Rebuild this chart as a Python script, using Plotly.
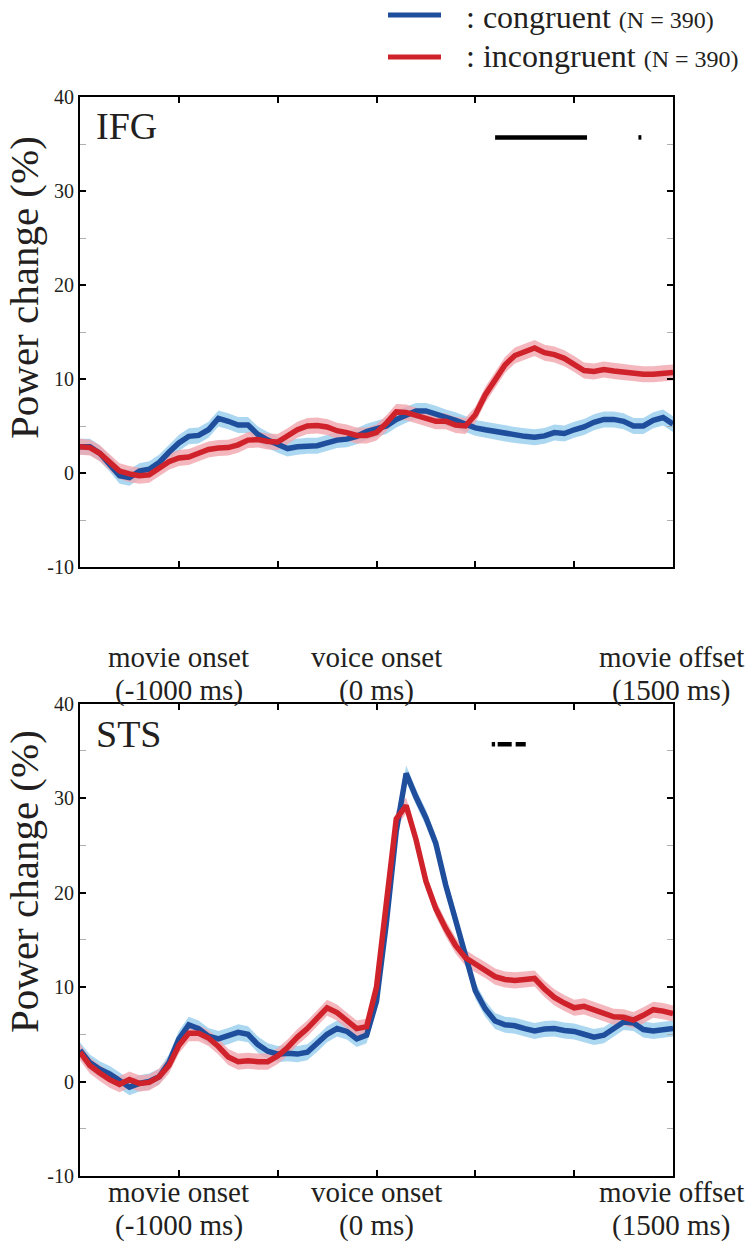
import plotly.graph_objects as go

# ---------------- data ----------------
time_ms = list(range(-1500, 1501, 50))

ifg_congruent = [
    2.8, 2.8, 2.1, 1.0, -0.3, -0.5, 0.2, 0.4, 1.1, 2.2,
    3.2, 3.9, 4.0, 4.6, 5.8, 5.5, 5.1, 5.1, 4.1, 3.5,
    3.0, 2.6, 2.8, 2.9, 2.9, 3.2, 3.5, 3.6, 3.9, 4.4,
    4.7, 5.0, 5.7, 6.2, 6.6, 6.6, 6.3, 5.9, 5.6, 5.2,
    4.8, 4.6, 4.4, 4.2, 4.05, 3.9, 3.8, 3.95, 4.3, 4.2,
    4.6, 4.9, 5.4, 5.7, 5.7, 5.5, 5.0, 5.0, 5.6, 5.9,
    5.2,
]
ifg_incongruent = [
    2.8, 2.7, 2.1, 1.2, 0.2, -0.1, -0.3, -0.2, 0.5, 1.2,
    1.6, 1.7, 2.1, 2.5, 2.65, 2.7, 3.0, 3.5, 3.55, 3.35,
    3.3, 3.9, 4.6, 5.0, 5.05, 4.9, 4.5, 4.3, 4.0, 4.0,
    4.3, 5.3, 6.5, 6.45, 6.1, 5.8, 5.5, 5.5, 5.1, 5.0,
    6.2, 8.3, 9.9, 11.5, 12.5, 12.9, 13.3, 12.8, 12.6, 12.2,
    11.6, 10.9, 10.8, 11.0, 10.85, 10.7, 10.6, 10.5, 10.5, 10.6,
    10.7,
]
sts_congruent = [
    3.3, 2.0, 1.3, 0.8, 0.1, -0.6, -0.2, 0.0, 0.5, 2.0,
    4.5, 6.0, 5.6, 4.8, 4.5, 4.8, 5.2, 5.0, 3.9, 3.2,
    2.9, 3.0, 2.9, 3.1, 4.0, 5.0, 5.6, 5.3, 4.5, 4.9,
    8.5, 16.8, 26.5, 32.6, 30.1, 27.9, 25.2, 20.8, 17.1, 13.4,
    9.6, 7.7, 6.4, 6.0, 5.9, 5.6, 5.35, 5.55, 5.6, 5.4,
    5.3, 5.0, 4.7, 4.9, 5.6, 6.3, 6.2, 5.5, 5.35, 5.5,
    5.6,
]
sts_incongruent = [
    3.1, 1.7, 0.9, 0.2, -0.3, 0.2, -0.2, -0.1, 0.5, 1.7,
    3.8, 5.1, 5.1, 4.6, 3.7, 2.6, 2.1, 2.2, 2.1, 2.1,
    2.7, 3.6, 4.7, 5.6, 6.7, 7.8, 7.3, 6.4, 5.6, 5.8,
    10.0, 18.9, 27.8, 29.2, 25.6, 21.2, 18.3, 16.2, 14.4, 13.1,
    12.4, 11.8, 11.1, 10.8, 10.7, 10.8, 10.9, 9.8, 8.9, 8.3,
    7.8, 7.95, 7.6, 7.2, 6.85, 6.8, 6.5, 7.0, 7.6, 7.45,
    7.2,
]
sem_congruent = 0.85
sem_incongruent = 0.85

# significant intervals (ms)
ifg_sig_start = [600, 1325]
ifg_sig_end = [1065, 1340]
sts_sig_start = [583, 613, 704]
sts_sig_end = [600, 684, 755]
sig_level = 35.7

y_tick_vals = [-10, 0, 10, 20, 30, 40]
y_tick_text = ["-10", "0", "10", "20", "30", "40"]
x_label_vals = [-1000, 0, 1500]
x_label_event = ["movie onset", "voice onset", "movie offset"]
x_label_time = ["(-1000 ms)", "(0 ms)", "(1500 ms)"]
panel_names = ["IFG", "STS"]

# ---------------- style ----------------
W, H = 746, 1248
FONT = "Liberation Serif, serif"
TXT = "#231f20"
BLUE = "#1f4e9c"
RED = "#d0222b"
BLUE_BAND = "rgba(150,205,238,0.8)"
RED_BAND = "rgba(240,165,172,0.8)"


def px(p):
    return p / W


def py(p):
    return 1 - p / H


fig = go.Figure()


def add_panel(xa, ya, cong, incong, sig_s, sig_e):
    for vals, sem, band in [(cong, sem_congruent, BLUE_BAND), (incong, sem_incongruent, RED_BAND)]:
        upper = [v + sem for v in vals]
        lower = [v - sem for v in vals]
        fig.add_trace(go.Scatter(
            x=time_ms + time_ms[::-1], y=upper + lower[::-1],
            fill="toself", fillcolor=band, line=dict(width=0),
            mode="lines", hoverinfo="skip", showlegend=False,
            xaxis=xa, yaxis=ya))
    for vals, col in [(cong, BLUE), (incong, RED)]:
        fig.add_trace(go.Scatter(
            x=time_ms, y=vals, mode="lines",
            line=dict(color=col, width=5.5), showlegend=False,
            xaxis=xa, yaxis=ya))
    for s, e in zip(sig_s, sig_e):
        fig.add_trace(go.Scatter(
            x=[s, e], y=[sig_level, sig_level], mode="lines",
            line=dict(color="black", width=4.5), showlegend=False,
            xaxis=xa, yaxis=ya))


add_panel("x", "y", ifg_congruent, ifg_incongruent, ifg_sig_start, ifg_sig_end)
add_panel("x2", "y2", sts_congruent, sts_incongruent, sts_sig_start, sts_sig_end)

xdom = [px(80), px(673)]
ydoms = [[py(567), py(97)], [py(1176), py(703.5)]]

xaxis_common = dict(
    range=[-1500, 1500], tickvals=[-1000, -500, 0, 500, 1000],
    showticklabels=False, ticks="inside", ticklen=6, tickwidth=2,
    tickcolor="black", showline=True, linewidth=2, linecolor="black",
    mirror="ticks", showgrid=False, zeroline=False, domain=xdom,
)
yaxis_common = dict(
    range=[-10, 40], tickvals=y_tick_vals, ticktext=y_tick_text,
    ticks="inside", ticklen=6,
    tickwidth=2, tickcolor="black", showline=True, linewidth=2,
    linecolor="black", mirror="ticks", showgrid=False, zeroline=False,
    tickfont=dict(family=FONT, size=20, color=TXT),
    minor=dict(dtick=5, tick0=0, ticks="inside", ticklen=6, tickwidth=1, tickcolor="#b0b0b0"),
)

fig.update_layout(
    width=W, height=H, margin=dict(l=0, r=0, t=0, b=0, autoexpand=False),
    paper_bgcolor="white", plot_bgcolor="white", showlegend=False,
    xaxis=dict(**xaxis_common, anchor="y"),
    xaxis2=dict(**xaxis_common, anchor="y2"),
    yaxis=dict(**yaxis_common, domain=ydoms[0], anchor="x"),
    yaxis2=dict(**yaxis_common, domain=ydoms[1], anchor="x2"),
)

annotations = []
# x labels (two lines each)
for xref, y1, y2 in [("x", 657, 690), ("x2", 1192, 1225)]:
    for v, t1, t2 in zip(x_label_vals, x_label_event, x_label_time):
        for t, yc in [(t1, y1), (t2, y2)]:
            annotations.append(dict(
                x=v, xref=xref, y=py(yc), yref="paper", text=t, showarrow=False,
                xanchor="center", yanchor="middle", align="center",
                xshift=-2 if v == 1500 else 0,
                font=dict(family=FONT, size=29, color=TXT)))
# y titles
for yc in [288, 882]:
    annotations.append(dict(
        x=px(24), xref="paper", y=py(yc), yref="paper", text="Power change (%)",
        textangle=-90, showarrow=False, xanchor="center", yanchor="middle",
        font=dict(family=FONT, size=41, color=TXT)))
# panel names
for name, yc in zip(panel_names, [126, 734]):
    annotations.append(dict(
        x=px(94), xref="paper", y=py(yc), yref="paper", text=name,
        showarrow=False, xanchor="left", yanchor="middle",
        font=dict(family=FONT, size=38, color=TXT)))
# legend
legend_items = [(": congruent ", BLUE, 17, 15), (": incongruent ", RED, 56, 57)]
shapes = []
for label, col, yc, yl in legend_items:
    shapes.append(dict(type="line", xref="paper", yref="paper",
                       x0=px(388), x1=px(441), y0=py(yl), y1=py(yl),
                       line=dict(color=col, width=5)))
    annotations.append(dict(
        x=px(464), xref="paper", y=py(yc), yref="paper",
        text=label + "<span style='font-size:24px'>(N = 390)</span>",
        showarrow=False, xanchor="left", yanchor="middle",
        font=dict(family=FONT, size=32, color=TXT)))

fig.update_layout(annotations=annotations, shapes=shapes)
fig.write_html("out.html", config={"displayModeBar": False},
               post_script="document.body.style.margin='0';")
